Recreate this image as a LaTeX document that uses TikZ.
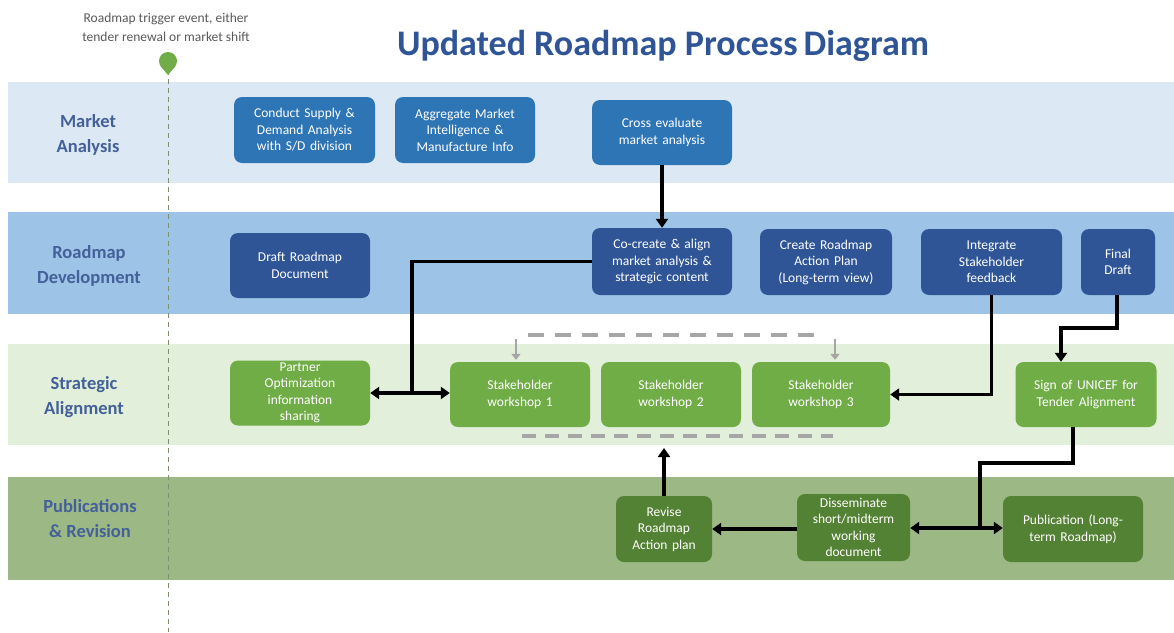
\documentclass[tikz,border=0pt]{standalone}
\usepackage{fontspec}
\setmainfont{Carlito}
\usetikzlibrary{arrows.meta}
\definecolor{bandA}{HTML}{DDE8F5}
\definecolor{bandB}{HTML}{9DC3E6}
\definecolor{bandC}{HTML}{E2EFDA}
\definecolor{bandD}{HTML}{9CB884}
\definecolor{boxA}{HTML}{2E75B6}
\definecolor{boxB}{HTML}{2F5597}
\definecolor{boxC}{HTML}{70AD47}
\definecolor{boxD}{HTML}{548235}
\definecolor{labcol}{HTML}{44609A}
\definecolor{titlecol}{HTML}{2F5597}
\definecolor{pincol}{HTML}{70AD47}
\definecolor{dashcol}{HTML}{A6A6A6}
\definecolor{vline}{HTML}{7F9070}
\tikzset{
  lanelabel/.style={font=\fontsize{18.5}{25}\selectfont\bfseries, text=labcol, align=center},
  proc/.style={rounded corners=8pt, text=white, align=center, inner sep=1pt,
    font=\fontsize{13.5}{16.5}\selectfont},
  pa/.style={proc, fill=boxA},
  pb/.style={proc, fill=boxB},
  pc/.style={proc, fill=boxC},
  pd/.style={proc, fill=boxD},
  conn/.style={line width=3.5pt, -{Triangle[width=12pt,length=9pt]}},
  dconn/.style={line width=3.5pt, {Triangle[width=12pt,length=9pt]}-{Triangle[width=12pt,length=9pt]}},
  plain/.style={line width=3.5pt},
  grayd/.style={line width=3.5pt, draw=dashcol, dash pattern=on 16pt off 11pt},
  garrow/.style={line width=2pt, draw=dashcol, -{Triangle[width=9pt,length=6pt]}},
}
\begin{document}
\begin{tikzpicture}[x=1pt,y=-1pt]
\useasboundingbox (0,0) rectangle (1174,632);
\fill[white] (0,0) rectangle (1174,632);
% bands
\fill[bandA] (8,82) rectangle (1174,183);
\fill[bandB] (8,212) rectangle (1174,314);
\fill[bandC] (8,344) rectangle (1174,445);
\fill[bandD] (8,477) rectangle (1174,580);
% lane labels
\node[lanelabel] (l1) at (88,135) {Market\\Analysis};
\node[lanelabel] (l2) at (89,266) {Roadmap\\Development};
\node[lanelabel] (l3) at (84,397) {Strategic\\Alignment};
\node[lanelabel] (l4) at (90,519) {Publications\\\& Revision};
% title
\node[font=\fontsize{36}{40}\selectfont\bfseries, text=titlecol] (title) at (663,46) {Updated Roadmap Process\,Diagram};
% trigger
\node[font=\fontsize{13.5}{19}\selectfont, text=black!65, align=center] (trig) at (166,27) {Roadmap trigger event, either\\tender renewal or market shift};
\draw[draw=vline, line width=1pt, dash pattern=on 5pt off 4pt] (168,70) -- (168,632);
\fill[pincol] (168,61) circle (9pt);
\fill[pincol] (160,65.5) -- (168,75) -- (176,65.5) -- cycle;
% market row
\node[pa, minimum width=141pt, minimum height=66pt, text width=136pt] (ms) at (304.5,130) {Conduct Supply \&\\Demand Analysis\\with S/D division};
\node[pa, minimum width=140pt, minimum height=66pt, text width=136pt] (mi) at (465,130) {Aggregate Market\\Intelligence \&\\Manufacture Info};
\node[pa, minimum width=140pt, minimum height=65pt, text width=136pt] (mc) at (662,132.5) {Cross evaluate\\market analysis};
% roadmap row
\node[pb, minimum width=140pt, minimum height=65pt, text width=136pt] (rd) at (300,265.5) {Draft Roadmap\\Document};
\node[pb, minimum width=140pt, minimum height=67pt, text width=136pt] (rc) at (662,261.5) {Co-create \& align\\market analysis \&\\strategic content};
\node[pb, minimum width=132pt, minimum height=66pt, text width=128pt] (ra) at (826,262) {Create Roadmap\\Action Plan\\(Long-term view)};
\node[pb, minimum width=141pt, minimum height=66pt, text width=136pt] (ri) at (991.5,262) {Integrate\\Stakeholder\\feedback};
\node[pb, minimum width=74pt, minimum height=66pt, text width=70pt] (rf) at (1118,262) {Final\\Draft};
% strategic row
\node[pc, minimum width=140pt, minimum height=65pt, text width=136pt] (sp) at (300,393) {Partner\\Optimization\\information\\sharing};
\node[pc, minimum width=140pt, minimum height=65pt, text width=136pt] (s1) at (520,394.5) {Stakeholder\\workshop 1};
\node[pc, minimum width=140pt, minimum height=65pt, text width=136pt] (s2) at (671,394.5) {Stakeholder\\workshop 2};
\node[pc, minimum width=138pt, minimum height=65pt, text width=134pt] (s3) at (821,394.5) {Stakeholder\\workshop 3};
\node[pc, minimum width=141pt, minimum height=65pt, text width=137pt] (su) at (1086,394.5) {Sign of UNICEF for\\Tender Alignment};
% publications row
\node[pd, minimum width=96pt, minimum height=66pt, text width=92pt] (pr) at (664,529) {Revise\\Roadmap\\Action plan};
\node[pd, minimum width=113pt, minimum height=67pt, text width=109pt] (pdd) at (853.5,527.5) {Disseminate\\short/midterm\\working\\document};
\node[pd, minimum width=140pt, minimum height=66pt, text width=136pt] (pp) at (1073,529) {Publication (Long-\\term Roadmap)};
% coordinates
\coordinate (j1) at (412,393);
\coordinate (fd1) at (1117,328);
\coordinate (su1) at (1073,463);
\coordinate (j2) at (980,463);
\coordinate (j3) at (980,528);
\coordinate (rv) at (664,448);
% connectors
\draw[conn] (mc.south) -- (rc.north);
\draw[plain] (rc.west) -| (j1);
\draw[dconn] (sp.east |- j1) -- (s1.west |- j1);
\draw[conn] (ri.south) |- (s3.east);
\draw[conn] (rf.south -| fd1) -- (fd1) -| ([xshift=-25pt]su.north);
\draw[plain] (su.south -| su1) -- (su1) -- (j2) -- (j3);
\draw[dconn] (pdd.east |- j3) -- (pp.west |- j3);
\draw[conn] (pdd.west |- pr.east) -- (pr.east);
\draw[conn] (pr.north) -- (rv);
% gray dashed connectors
\draw[grayd] ([xshift=8pt,yshift=27pt]s1.north) -- ([xshift=2pt,yshift=27pt]s3.north);
\draw[garrow] ([xshift=-4pt,yshift=23pt]s1.north) -- ([xshift=-4pt,yshift=2pt]s1.north);
\draw[garrow] ([xshift=14pt,yshift=23pt]s3.north) -- ([xshift=14pt,yshift=2pt]s3.north);
\draw[grayd, dash pattern=on 14pt off 9pt] ([xshift=2pt,yshift=-9pt]s1.south) -- ([xshift=12pt,yshift=-9pt]s3.south);
\end{tikzpicture}
\end{document}
